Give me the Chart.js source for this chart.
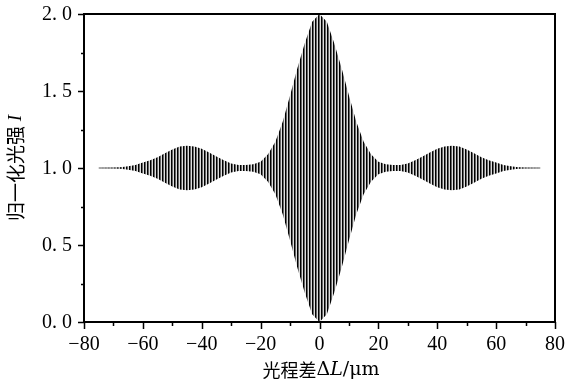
<!DOCTYPE html>
<html>
<head>
<meta charset="utf-8">
<script src="https://cdn.jsdelivr.net/npm/chart.js@4.4.0/dist/chart.umd.min.js"></script>
<style>
  html, body { margin: 0; padding: 0; background: #fff; }
  #wrap { width: 567px; height: 388px; position: relative; }
</style>
</head>
<body>
<div id="wrap"><canvas id="c"></canvas></div>
<script>
// optical path difference sample points (um) where the fringe envelope was read
const opdLeft = [-75, -70, -67.5, -65, -62.5, -60, -57.5, -55, -52.5, -50, -47.5, -45, -42.5, -40, -37.5,
  -35, -32.5, -30, -27.5, -25, -22.5, -20, -17.5, -15, -12.5, -10, -7.5, -5, -2.5, 0];
const upperLeft = [1.000, 1.002, 1.005, 1.012, 1.020, 1.035, 1.050, 1.070, 1.095, 1.120, 1.140, 1.145, 1.140, 1.125, 1.100,
  1.075, 1.050, 1.030, 1.020, 1.020, 1.025, 1.040, 1.090, 1.170, 1.300, 1.470, 1.650, 1.810, 1.950, 2.000];
const lowerLeft = [1.000, 0.998, 0.995, 0.988, 0.980, 0.965, 0.950, 0.930, 0.905, 0.880, 0.860, 0.855, 0.860, 0.875, 0.900,
  0.925, 0.950, 0.970, 0.980, 0.980, 0.975, 0.960, 0.910, 0.830, 0.700, 0.530, 0.350, 0.190, 0.050, 0.000];
const opdRight = [2.5, 5, 7.5, 10, 12.5, 15, 17.5, 20, 22.5, 25, 27.5, 30, 32.5, 35, 37.5,
  40, 42.5, 45, 47.5, 50, 52.5, 55, 57.5, 60, 62.5, 65, 67.5, 70, 75];
const upperRight = [1.950, 1.810, 1.650, 1.470, 1.300, 1.170, 1.090, 1.040, 1.025, 1.020, 1.020, 1.030, 1.050, 1.075, 1.100,
  1.125, 1.140, 1.145, 1.140, 1.120, 1.095, 1.070, 1.050, 1.035, 1.020, 1.012, 1.005, 1.002, 1.000];
const lowerRight = [0.050, 0.190, 0.350, 0.530, 0.700, 0.830, 0.910, 0.960, 0.975, 0.980, 0.980, 0.970, 0.950, 0.925, 0.900,
  0.875, 0.860, 0.855, 0.860, 0.880, 0.905, 0.930, 0.950, 0.965, 0.980, 0.988, 0.995, 0.998, 1.000];
// flat background level
const baseX = [-75, 75];
const baseY = [1.0, 1.0];

const xTicks = [-80, -60, -40, -20, 0, 20, 40, 60, 80];
const yTicks = [0.0, 0.5, 1.0, 1.5, 2.0];

const opd = opdLeft.concat(opdRight);
const upper = upperLeft.concat(upperRight);
const lower = lowerLeft.concat(lowerRight);
const pts = (xs, ys) => xs.map((x, i) => ({ x, y: ys[i] }));

// vertical fringe texture
function fringePattern() {
  const p = document.createElement('canvas');
  p.width = 3; p.height = 1;
  const g = p.getContext('2d');
  g.fillStyle = '#ddd'; g.fillRect(0, 0, 3, 1);
  g.fillStyle = '#000'; g.fillRect(0, 0, 1, 1);
  g.fillStyle = '#666'; g.fillRect(1, 0, 1, 1);
  return g.createPattern(p, 'repeat');
}

const SERIF = '"Liberation Serif", "DejaVu Serif", serif';
const SERIF2 = '"DejaVu Serif", serif';
const CJK = '"Noto Sans CJK SC", sans-serif';
const fmtX = v => (v < 0 ? '\u2212' + Math.abs(v) : String(v));
const fmtY = v => v.toFixed(1).replace('.', '. ');

const frame = {
  id: 'frame',
  afterDraw(chart) {
    const { ctx, chartArea: a, scales: { x, y } } = chart;
    ctx.save();
    ctx.strokeStyle = '#000';
    ctx.lineWidth = 2;
    ctx.strokeRect(a.left, a.top, a.right - a.left, a.bottom - a.top);
    ctx.lineWidth = 1.5;
    ctx.beginPath();
    for (let v = -80; v <= 80; v += 10) {
      const px = Math.round(x.getPixelForValue(v)) + 0.5;
      const len = v % 20 === 0 ? 7 : 4;
      ctx.moveTo(px, a.bottom); ctx.lineTo(px, a.bottom + len);
    }
    for (let v = 0; v <= 2.0001; v += 0.25) {
      const py = Math.round(y.getPixelForValue(v)) + 0.5;
      const len = Math.abs(v * 2 - Math.round(v * 2)) < 1e-6 ? 6 : 3;
      ctx.moveTo(a.left, py); ctx.lineTo(a.left - len, py);
    }
    ctx.stroke();

    // tick labels
    ctx.fillStyle = '#000';
    ctx.textBaseline = 'middle';
    ctx.font = '20px ' + SERIF;
    ctx.textAlign = 'center';
    x.ticks.forEach(t => ctx.fillText(fmtX(t.value), x.getPixelForValue(t.value), 345));
    ctx.textAlign = 'right';
    y.ticks.forEach(t => ctx.fillText(fmtY(t.value), 72, y.getPixelForValue(t.value) + 1));

    // axis titles
    const xParts = [['光程差', '18px ' + CJK], ['\u0394', '19px ' + SERIF2], ['L', 'italic 19px ' + SERIF2], ['/\u03bcm', '19px ' + SERIF2]];
    const yParts = [['归一化光强', '19px ' + CJK], [' ', '19px ' + SERIF], ['I', 'italic 19px ' + SERIF]];
    const drawParts = (parts, cx, cy) => {
      let w = 0;
      parts.forEach(([t, f]) => { ctx.font = f; w += ctx.measureText(t).width; });
      let px = cx - w / 2;
      parts.forEach(([t, f]) => { ctx.font = f; ctx.textAlign = 'left'; ctx.fillText(t, px, cy); px += ctx.measureText(t).width; });
    };
    drawParts(xParts, 321, 370);
    ctx.translate(16, 168);
    ctx.rotate(-Math.PI / 2);
    drawParts(yParts, 0, 0);
    ctx.restore();
  }
};

new Chart(document.getElementById('c'), {
  type: 'line',
  data: {
    datasets: [
      {
        data: pts(opd, upper),
        borderWidth: 0,
        pointRadius: 0,
        fill: '+1',
        backgroundColor: fringePattern()
      },
      {
        data: pts(opd, lower),
        borderWidth: 0,
        pointRadius: 0,
        fill: false
      },
      {
        data: pts(baseX, baseY),
        borderColor: '#555',
        borderWidth: 1,
        pointRadius: 0,
        fill: false
      }
    ]
  },
  plugins: [frame],
  options: {
    responsive: true,
    maintainAspectRatio: false,
    animation: false,
    layout: { padding: { left: 0, right: 12, top: 14, bottom: 0 } },
    plugins: { legend: { display: false }, tooltip: { enabled: false } },
    scales: {
      x: {
        type: 'linear', min: -80, max: 80,
        afterBuildTicks: s => { s.ticks = xTicks.map(value => ({ value })); },
        afterFit: s => { s.height = 66; },
        grid: { display: false },
        border: { display: false },
        ticks: { display: false }
      },
      y: {
        type: 'linear', min: 0, max: 2,
        afterBuildTicks: s => { s.ticks = yTicks.map(value => ({ value })); },
        afterFit: s => { s.width = 84; },
        grid: { display: false },
        border: { display: false },
        ticks: { display: false }
      }
    }
  }
});
</script>
</body>
</html>
